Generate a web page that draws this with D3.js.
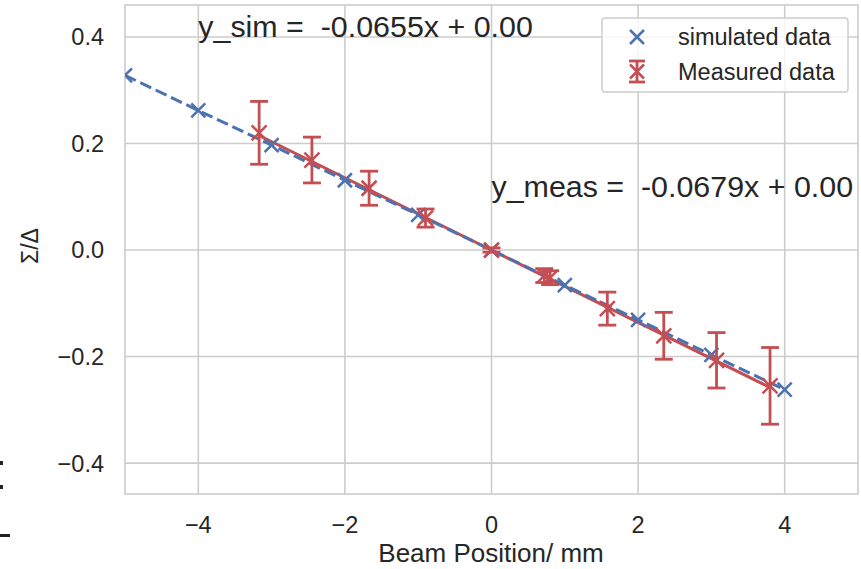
<!DOCTYPE html>
<html>
<head>
<meta charset="utf-8">
<script src="https://cdn.jsdelivr.net/npm/d3@7"></script>
<style>
  body { margin: 0; background: #fff; }
  text { font-family: "Liberation Sans", Arial, sans-serif; fill: #262626; }
</style>
</head>
<body>
<svg width="861" height="569"></svg>
<script>
// simulated points
var simX = [-5, -4, -3, -2, -1, 0, 1, 2, 3, 4];
var simY = [0.328, 0.262, 0.197, 0.131, 0.066, 0, -0.066, -0.131, -0.197, -0.262];

// measured points with error
var measX = [-3.17, -2.45, -1.67, -0.9, 0, 0.72, 0.8, 1.58, 2.35, 3.07, 3.8];
var measY = [0.22, 0.169, 0.116, 0.06, 0, -0.048, -0.052, -0.11, -0.161, -0.207, -0.255];
var measErr = [0.059, 0.043, 0.032, 0.017, 0.004, 0.013, 0.013, 0.031, 0.044, 0.052, 0.072];

// fit line of measured data (end points)
var fitX = [-3.17, 3.8];
var fitY = [0.215, -0.258];

var xTicks = [-4, -2, 0, 2, 4];
var yTicks = [-0.4, -0.2, 0.0, 0.2, 0.4];

var blue = "#4c72b0", red = "#c44e52", grid = "#cccccc";

var svg = d3.select("svg");

var xScale = d3.scaleLinear().domain([-5, 5]).range([125, 858]),
    yScale = d3.scaleLinear().domain([-0.458, 0.46]).range([494, 5]);

// grid
svg.append("g").selectAll("line")
    .data(xTicks)
    .enter().append("line")
    .attr("x1", d => xScale(d)).attr("x2", d => xScale(d))
    .attr("y1", yScale.range()[0]).attr("y2", yScale.range()[1])
    .attr("stroke", grid).attr("stroke-width", 1.6);

svg.append("g").selectAll("line")
    .data(yTicks)
    .enter().append("line")
    .attr("y1", d => yScale(d)).attr("y2", d => yScale(d))
    .attr("x1", xScale.range()[0]).attr("x2", xScale.range()[1])
    .attr("stroke", grid).attr("stroke-width", 1.6);

// frame
svg.append("rect")
    .attr("x", 125).attr("y", 5)
    .attr("width", 733).attr("height", 489)
    .attr("fill", "none").attr("stroke", grid).attr("stroke-width", 1.6);

// tick labels
svg.append("g").selectAll("text")
    .data(xTicks)
    .enter().append("text")
    .attr("x", d => xScale(d))
    .attr("y", 533)
    .attr("text-anchor", "middle")
    .style("font-size", "23.5px")
    .text(d => d3.format("")(d).replace("-", "\u2212"));

svg.append("g").selectAll("text")
    .data(yTicks)
    .enter().append("text")
    .attr("x", 104)
    .attr("y", d => yScale(d))
    .attr("dy", "0.36em")
    .attr("text-anchor", "end")
    .style("font-size", "23.5px")
    .text(d => d3.format(".1f")(d).replace("-", "\u2212"));

// axis labels
svg.append("text")
    .attr("x", 491).attr("y", 562)
    .attr("text-anchor", "middle")
    .style("font-size", "26px")
    .text("Beam Position/ mm");

svg.append("text")
    .attr("transform", "translate(38,246) rotate(-90)")
    .attr("text-anchor", "middle")
    .style("font-size", "23px")
    .text("\u03A3/\u0394");

var plot = svg.append("g");
svg.append("clipPath").attr("id", "clip")
    .append("rect").attr("x", 125).attr("y", 5).attr("width", 733).attr("height", 489);
plot.attr("clip-path", "url(#clip)");

function cross(x, y, r) {
    return "M" + (x - r) + "," + (y - r) + "L" + (x + r) + "," + (y + r) +
           "M" + (x - r) + "," + (y + r) + "L" + (x + r) + "," + (y - r);
}

// measured fit line
plot.append("path")
    .datum(d3.zip(fitX, fitY))
    .attr("d", d3.line().x(d => xScale(d[0])).y(d => yScale(d[1])))
    .attr("fill", "none").attr("stroke", red).attr("stroke-width", 3);

// simulated dashed line + markers
plot.append("path")
    .datum(d3.zip(simX, simY))
    .attr("d", d3.line().x(d => xScale(d[0])).y(d => yScale(d[1])))
    .attr("fill", "none").attr("stroke", blue).attr("stroke-width", 3)
    .attr("stroke-dasharray", "12,5");

plot.selectAll(".sim")
    .data(d3.zip(simX, simY))
    .enter().append("path")
    .attr("class", "sim")
    .attr("d", d => cross(xScale(d[0]), yScale(d[1]), 7))
    .attr("stroke", blue).attr("stroke-width", 2.5).attr("fill", "none");

// measured error bars
var meas = d3.range(measX.length).map(i => ({ x: measX[i], y: measY[i], e: measErr[i] }));
var eb = plot.selectAll(".meas")
    .data(meas)
    .enter().append("g")
    .attr("class", "meas")
    .attr("stroke", red).attr("stroke-width", 2.8).attr("fill", "none");

eb.append("line")
    .attr("x1", d => xScale(d.x)).attr("x2", d => xScale(d.x))
    .attr("y1", d => yScale(d.y + d.e)).attr("y2", d => yScale(d.y - d.e));
eb.append("line")
    .attr("x1", d => xScale(d.x) - 9).attr("x2", d => xScale(d.x) + 9)
    .attr("y1", d => yScale(d.y + d.e)).attr("y2", d => yScale(d.y + d.e));
eb.append("line")
    .attr("x1", d => xScale(d.x) - 9).attr("x2", d => xScale(d.x) + 9)
    .attr("y1", d => yScale(d.y - d.e)).attr("y2", d => yScale(d.y - d.e));
eb.append("path")
    .attr("stroke-width", 2.5)
    .attr("d", d => cross(xScale(d.x), yScale(d.y), 7.5));

// annotations
svg.append("text")
    .attr("x", xScale(-4)).attr("y", yScale(0.4))
    .attr("xml:space", "preserve")
    .style("white-space", "pre")
    .style("font-size", "30.4px")
    .text("y_sim =  -0.0655x + 0.00");

svg.append("text")
    .attr("x", xScale(0)).attr("y", yScale(0.1))
    .attr("xml:space", "preserve")
    .style("white-space", "pre")
    .style("font-size", "30.4px")
    .text("y_meas =  -0.0679x + 0.00");

// legend
var lg = svg.append("g");
lg.append("rect")
    .attr("x", 602).attr("y", 18).attr("width", 246).attr("height", 74).attr("rx", 3)
    .attr("fill", "#fff").attr("fill-opacity", 0.8)
    .attr("stroke", grid).attr("stroke-width", 1.4);
lg.append("path")
    .attr("d", cross(637, 37, 7))
    .attr("stroke", blue).attr("stroke-width", 2.5);
var lr = lg.append("g").attr("stroke", red).attr("stroke-width", 2.8);
lr.append("line").attr("x1", 637).attr("x2", 637).attr("y1", 61).attr("y2", 82);
lr.append("line").attr("x1", 629).attr("x2", 645).attr("y1", 61).attr("y2", 61);
lr.append("line").attr("x1", 629).attr("x2", 645).attr("y1", 82).attr("y2", 82);
lr.append("path").attr("stroke-width", 2.5).attr("d", cross(637, 71.5, 7));
lg.append("text").attr("x", 678).attr("y", 45).style("font-size", "23.5px").text("simulated data");
lg.append("text").attr("x", 678).attr("y", 80).style("font-size", "23.5px").text("Measured data");

// clipped marks at the left edge
svg.append("rect").attr("x", 0).attr("y", 461).attr("width", 3).attr("height", 4).attr("fill", "#222");
svg.append("rect").attr("x", 0).attr("y", 485).attr("width", 3).attr("height", 4).attr("fill", "#222");
svg.append("rect").attr("x", 0).attr("y", 534).attr("width", 10).attr("height", 3).attr("fill", "#222");
</script>
</body>
</html>
